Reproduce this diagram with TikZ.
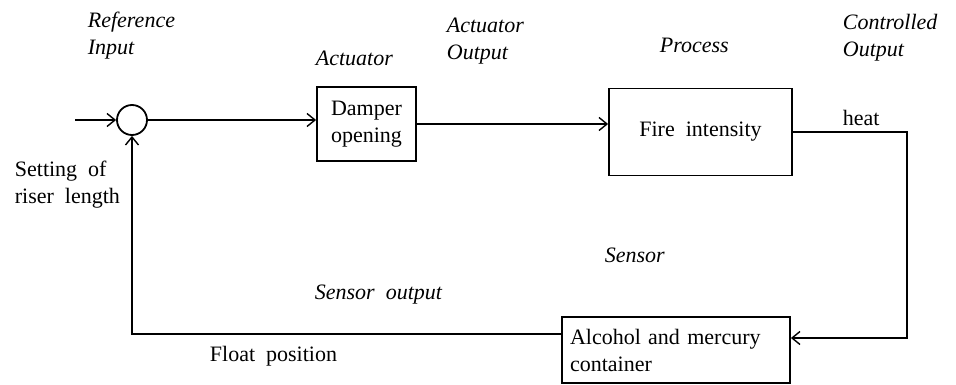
\documentclass[tikz,border=0pt]{standalone}
\usepackage{fontspec}
\setmainfont{Liberation Serif}
\usetikzlibrary{arrows.meta}
\begin{document}
\begin{tikzpicture}[x=1pt,y=-1pt,
  line width=1.8pt,
  every node/.style={font=\fontsize{22}{27}\selectfont},
  box/.style={draw,rectangle,inner sep=4pt,align=center},
  lab/.style={font=\fontsize{22}{27}\selectfont\itshape,align=left,inner sep=0pt},
  txt/.style={align=left,inner sep=0pt},
  arr/.style={-{Straight Barb[length=8pt,width=13pt,line width=1.4pt]}}]
\useasboundingbox (0,0) rectangle (956,385);
\coordinate (in) at (75,120);
\node[circle,draw,minimum size=30pt,inner sep=0pt] (sum) at (132,120) {};
\node[box,minimum width=99pt,minimum height=74pt] (damper) at (366.5,124) {Damper\\opening};
\node[box,minimum width=183pt,minimum height=87pt] (fire) at (700.5,132) {Fire\ \ intensity};
\node[box,align=left,text width=212pt,inner xsep=8pt,minimum height=66pt] (sensor) at (676,350) {Alcohol and mercury\\container};
\coordinate (corner) at (907,132);
% connectors
\draw[arr] (in) -- (sum.west);
\draw[arr] (sum.east) -- (sum.east -| damper.west);
\draw[arr] (damper.east |- 0,124) -- (fire.west |- 0,124);
\draw[arr] (fire.east) -- (corner) |- ([yshift=12pt]sensor.east);
\draw[arr] ([yshift=16pt]sensor.west) -| (sum.south);
% labels
\node[lab,anchor=west] (refin) at (87,36) {Reference\\Input};
\node[lab,anchor=west] (actl) at (315,58) {Actuator};
\node[lab,anchor=west] (actout) at (446,41) {Actuator\\Output};
\node[lab,anchor=west] (procl) at (659,45) {Process};
\node[lab,anchor=west] (ctrl) at (842,38) {Controlled\\Output};
\node[txt,anchor=west] (heat) at (842,118) {heat};
\node[txt,anchor=west] (setting) at (14,185) {Setting\ \ of\\riser\ \ length};
\node[lab,anchor=west] (sensl) at (604,255) {Sensor};
\node[lab,anchor=west] (sensout) at (314,295) {Sensor\ \ output};
\node[txt,anchor=west] (float) at (209,356) {Float\ \ position};
\end{tikzpicture}
\end{document}
